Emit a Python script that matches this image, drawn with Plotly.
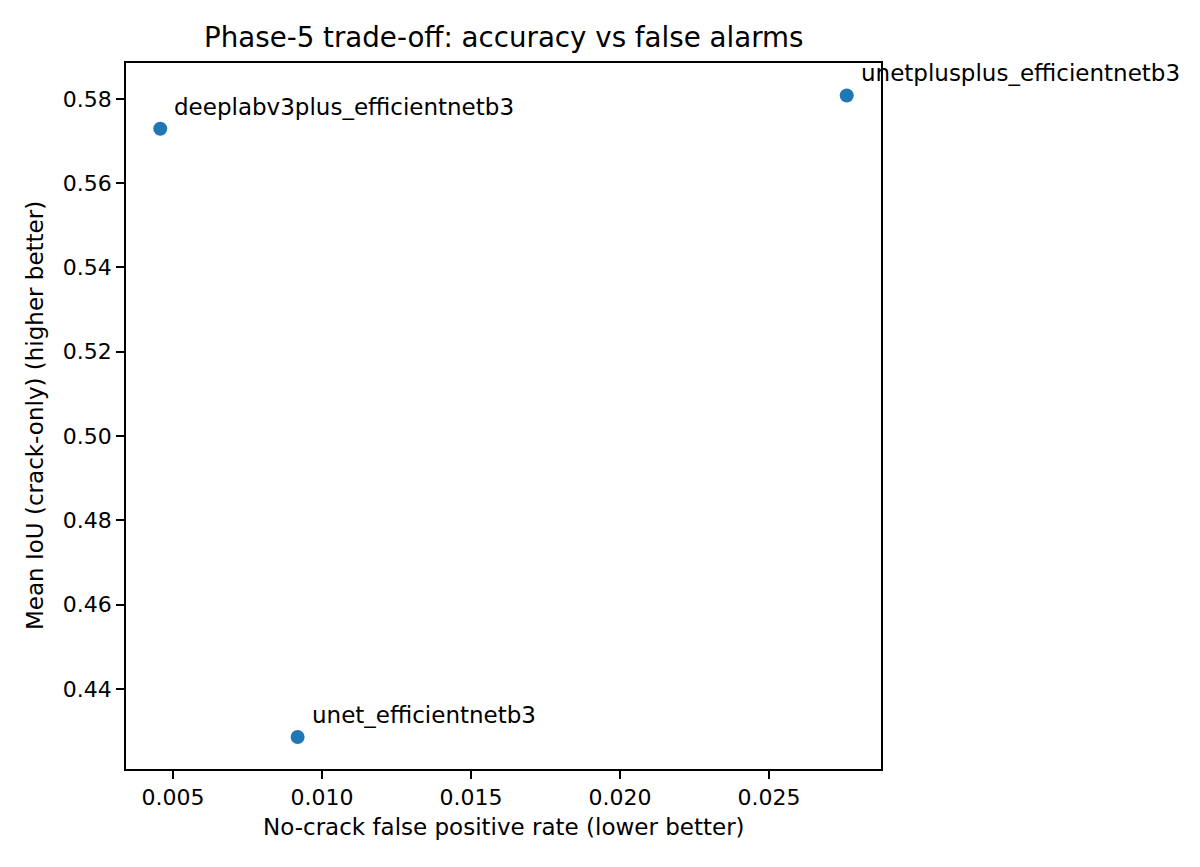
import plotly.graph_objects as go

# model results
models = ["deeplabv3plus_efficientnetb3", "unetplusplus_efficientnetb3", "unet_efficientnetb3"]
fpr = [0.00457, 0.02761, 0.00918]
miou = [0.5729, 0.5808, 0.4286]

x_ticks = [0.005, 0.010, 0.015, 0.020, 0.025]
y_ticks = [0.44, 0.46, 0.48, 0.50, 0.52, 0.54, 0.56, 0.58]

font = dict(family="DejaVu Sans", size=23, color="black")
tick_font = dict(family="DejaVu Sans", size=22, color="black")

fig = go.Figure()
fig.add_trace(go.Scatter(x=fpr, y=miou, mode="markers",
                         marker=dict(color="#1f77b4", size=14), showlegend=False))

# labels offset up-right of each point
for name, xv, yv in zip(models, fpr, miou):
    fig.add_annotation(x=xv, y=yv, text=name, showarrow=False, xanchor="left", yanchor="bottom",
                       xshift=12, yshift=7, font=font)

fig.add_annotation(text="Phase-5 trade-off: accuracy vs false alarms", xref="paper", yref="paper",
                   x=0.5, y=1, xanchor="center", yanchor="bottom", yshift=7, showarrow=False,
                   font=dict(family="DejaVu Sans", size=27.7, color="black"))
fig.add_annotation(text="No-crack false positive rate (lower better)", xref="paper", yref="paper",
                   x=0.5, y=0, xanchor="center", yanchor="top", yshift=-43, showarrow=False, font=font)
fig.add_annotation(text="Mean IoU (crack-only) (higher better)", xref="paper", yref="paper",
                   x=0, y=0.5, xanchor="right", yanchor="middle", xshift=-76, textangle=-90,
                   showarrow=False, font=font)

axis = dict(showline=True, linecolor="black", linewidth=1.8, mirror=True, showgrid=False,
            zeroline=False, ticks="outside", ticklen=8, tickwidth=1.8, tickcolor="black",
            tickfont=tick_font)
fig.update_xaxes(axis, range=[0.00342, 0.02876], tickvals=x_ticks,
                 ticktext=[f"{v:.3f}" for v in x_ticks])
fig.update_yaxes(axis, range=[0.4210, 0.5885], tickvals=y_ticks,
                 ticktext=[f"{v:.2f}" for v in y_ticks])

fig.update_layout(width=1200, height=867, plot_bgcolor="white", paper_bgcolor="white",
                  margin=dict(l=118, r=327, t=55, b=106), font=font)

fig.write_html("out.html")
